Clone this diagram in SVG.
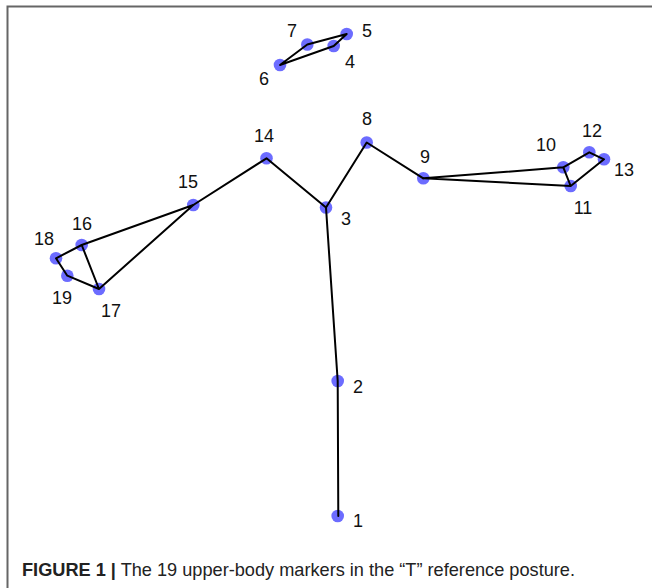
<svg xmlns="http://www.w3.org/2000/svg" width="652" height="588" viewBox="0 0 652 588">
<style>
.dot{fill:#3333ff;fill-opacity:0.72;stroke:none}
.edge{stroke:#000;stroke-width:2;fill:none;stroke-linejoin:round;stroke-linecap:round}
.lbl{font-family:"Liberation Sans",Arial,Helvetica,sans-serif;font-size:18px;fill:#111;text-anchor:middle}
.cap{font-family:"Liberation Sans",Arial,Helvetica,sans-serif;font-size:18.5px;fill:#222}
</style>
<rect width="652" height="588" fill="#fff"/>
<path d="M7.5,588 V6.5 H652" fill="none" stroke="#666" stroke-width="2"/>
<g id="nodes">
<g id="n1"><circle class="dot" cx="337.7" cy="516" r="6.3"/><text class="lbl" x="358" y="527">1</text></g>
<g id="n2"><circle class="dot" cx="337.7" cy="381" r="6.3"/><text class="lbl" x="358" y="393">2</text></g>
<g id="n3"><circle class="dot" cx="326" cy="207.5" r="6.3"/><text class="lbl" x="346" y="225">3</text></g>
<g id="n4"><circle class="dot" cx="333.7" cy="46" r="6.3"/><text class="lbl" x="350" y="68">4</text></g>
<g id="n5"><circle class="dot" cx="346.7" cy="34" r="6.3"/><text class="lbl" x="367" y="37">5</text></g>
<g id="n6"><circle class="dot" cx="280" cy="65" r="6.3"/><text class="lbl" x="264" y="85">6</text></g>
<g id="n7"><circle class="dot" cx="307.3" cy="44.5" r="6.3"/><text class="lbl" x="292" y="37">7</text></g>
<g id="n8"><circle class="dot" cx="366.7" cy="142.5" r="6.3"/><text class="lbl" x="367" y="125">8</text></g>
<g id="n9"><circle class="dot" cx="423.3" cy="178.3" r="6.3"/><text class="lbl" x="425" y="163">9</text></g>
<g id="n10"><circle class="dot" cx="563.3" cy="167.3" r="6.3"/><text class="lbl" x="546" y="151">10</text></g>
<g id="n11"><circle class="dot" cx="570.7" cy="186" r="6.3"/><text class="lbl" x="583" y="214">11</text></g>
<g id="n12"><circle class="dot" cx="589.3" cy="152.3" r="6.3"/><text class="lbl" x="592" y="137">12</text></g>
<g id="n13"><circle class="dot" cx="604" cy="159.3" r="6.3"/><text class="lbl" x="624" y="176">13</text></g>
<g id="n14"><circle class="dot" cx="266.5" cy="158.3" r="6.3"/><text class="lbl" x="264" y="142">14</text></g>
<g id="n15"><circle class="dot" cx="193.3" cy="205" r="6.3"/><text class="lbl" x="188" y="188">15</text></g>
<g id="n16"><circle class="dot" cx="81.7" cy="245" r="6.3"/><text class="lbl" x="82" y="230">16</text></g>
<g id="n17"><circle class="dot" cx="99" cy="289" r="6.3"/><text class="lbl" x="111" y="317">17</text></g>
<g id="n18"><circle class="dot" cx="56" cy="258.3" r="6.3"/><text class="lbl" x="44" y="245">18</text></g>
<g id="n19"><circle class="dot" cx="67.3" cy="275.7" r="6.3"/><text class="lbl" x="62" y="304">19</text></g>
</g>
<g id="connectors">
<path class="edge" d="M338.3,516 L337.7,381 L326,207.5 L266.5,158.3 L193.3,205"/>
<path class="edge" d="M326,207.5 L366.7,142.5 L423.3,178.3"/>
<path class="edge" d="M423.3,178.3 L563.3,167.3 L589.3,152.3 L604,159.3 L570.7,186 L423.3,178.3 M563.3,167.3 L570.7,186"/>
<path class="edge" d="M193.3,205 L81.7,245 L56,258.3 L67.3,275.7 L99,289 L193.3,205 M81.7,245 L99,289"/>
<path class="edge" d="M280,65 L307.3,44.5 L346.7,34 L333.7,46 Z"/>
</g>
<text class="cap" x="22" y="576" textLength="553" lengthAdjust="spacingAndGlyphs"><tspan font-weight="bold">FIGURE 1 |</tspan> The 19 upper-body markers in the “T” reference posture.</text>
</svg>
